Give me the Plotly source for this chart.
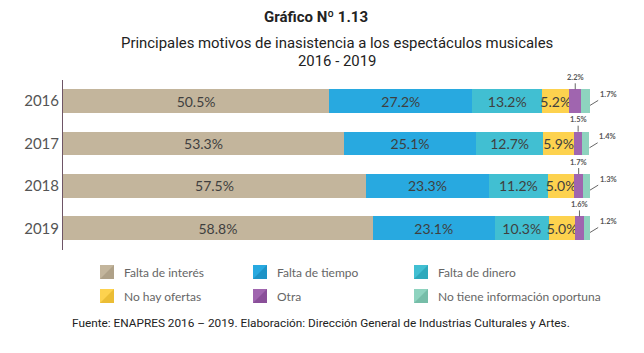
import plotly.graph_objects as go

years = ["2016", "2017", "2018", "2019"]
series_names = ["Falta de interés", "Falta de tiempo", "Falta de dinero",
                "No hay ofertas", "Otra", "No tiene información oportuna"]
falta_interes = [50.5, 53.3, 57.5, 58.8]
falta_tiempo = [27.2, 25.1, 23.3, 23.1]
falta_dinero = [13.2, 12.7, 11.2, 10.3]
no_hay_ofertas = [5.2, 5.9, 5.0, 5.0]
otra = [2.2, 1.5, 1.7, 1.6]
no_info = [1.7, 1.4, 1.3, 1.2]
series_values = [falta_interes, falta_tiempo, falta_dinero, no_hay_ofertas, otra, no_info]

colors = ["#C3B59C", "#28A9E0", "#41BFD2", "#FDD24E", "#A065AF", "#8ED3BF"]
dark_colors = ["#AFA188", "#1E93C6", "#2EA9BC", "#EBBD35", "#8A4F99", "#76BDA8"]

W, H = 644, 353
L, R, T, B = 63, 54, 80, 103
PW, PH = W - L - R, H - T - B

def px(x):
    return (x - L) / PW

def py(y):
    return (H - B - y) / PH

fig = go.Figure()
for k, (name, vals) in enumerate(zip(series_names, series_values)):
    inside = k < 4
    fig.add_trace(go.Bar(
        y=years, x=vals, name=name, orientation="h",
        marker=dict(color=colors[k], line=dict(width=0)),
        text=[f"{v:.1f}%" for v in vals] if inside else None,
        textposition="inside" if inside else "none",
        insidetextanchor="middle",
        constraintext="none",
        textfont=dict(family="Lato", size=14, color="#3f3f3f"),
        showlegend=False,
        hoverinfo="skip",
    ))

annotations = []
# small-segment labels
for i, y in enumerate(years):
    before = sum(series_values[j][i] for j in range(4))
    v_otra = otra[i]
    annotations.append(dict(
        x=before + v_otra / 2, y=i - 0.28, xref="x", yref="y",
        text=f"<b>{v_otra:.1f}%</b>", showarrow=True, arrowhead=0, arrowwidth=0.9,
        arrowcolor="#555", ax=0, ay=-12, standoff=0,
        font=dict(family="Lato", size=7.5, color="#555")))
    total = before + v_otra + no_info[i]
    annotations.append(dict(
        x=total, y=i + 0.1, xref="x", yref="y",
        text=f"<b>{no_info[i]:.1f}%</b>", showarrow=True, arrowhead=0, arrowwidth=0.9,
        arrowcolor="#555", ax=18, ay=-11, standoff=0,
        font=dict(family="Lato", size=7.5, color="#555")))

TF = "Roboto"
annotations += [
    dict(x=px(316), y=py(17), xref="paper", yref="paper", showarrow=False,
         xanchor="center", yanchor="middle",
         text="<b>Gráfico Nº 1.13</b>",
         font=dict(family=TF, size=15, color="#222")),
    dict(x=px(337), y=py(43), xref="paper", yref="paper", showarrow=False,
         xanchor="center", yanchor="middle",
         text="Principales motivos de inasistencia a los espectáculos musicales",
         font=dict(family=TF, size=14.9, color="#222")),
    dict(x=px(337), y=py(61), xref="paper", yref="paper", showarrow=False,
         xanchor="center", yanchor="middle",
         text="2016 - 2019",
         font=dict(family=TF, size=14.9, color="#222")),
    dict(x=px(70), y=py(323), xref="paper", yref="paper", showarrow=False,
         xanchor="left", yanchor="middle",
         text="Fuente: ENAPRES 2016 – 2019. Elaboración: Dirección General de Industrias Culturales y Artes.",
         font=dict(family=TF, size=11.8, color="#222")),
]

# custom legend
shapes = []
col_x = [100, 253, 414]
row_y = [265, 289]
for k, name in enumerate(series_names):
    cx = col_x[k % 3]
    ry = row_y[k // 3]
    s = 14
    shapes.append(dict(type="rect", xref="paper", yref="paper",
                       x0=px(cx), x1=px(cx + s), y0=py(ry + s), y1=py(ry),
                       fillcolor=colors[k], line=dict(width=0)))
    path = (f"M {px(cx)},{py(ry + s)} L {px(cx + s)},{py(ry + s)} "
            f"L {px(cx + s)},{py(ry)} Z")
    shapes.append(dict(type="path", xref="paper", yref="paper", path=path,
                       fillcolor=dark_colors[k], line=dict(width=0)))
    annotations.append(dict(x=px(cx + s + 8), y=py(ry + s / 2), xref="paper", yref="paper",
                            xanchor="left", yanchor="middle", showarrow=False, text=name,
                            font=dict(family="Lato", size=12, color="#666")))

fig.update_layout(
    width=W, height=H, barmode="stack", bargap=0.44,
    margin=dict(l=L, r=R, t=T, b=B),
    paper_bgcolor="white", plot_bgcolor="white",
    xaxis=dict(range=[0, 100], visible=False, fixedrange=True),
    yaxis=dict(autorange="reversed", showline=True, linecolor="#6e5566", linewidth=1,
               ticks="", showgrid=False, ticklen=0,
               tickfont=dict(family="Lato", size=15, color="#555")),
    annotations=annotations, shapes=shapes, showlegend=False,
)
fig.write_html("out.html")
